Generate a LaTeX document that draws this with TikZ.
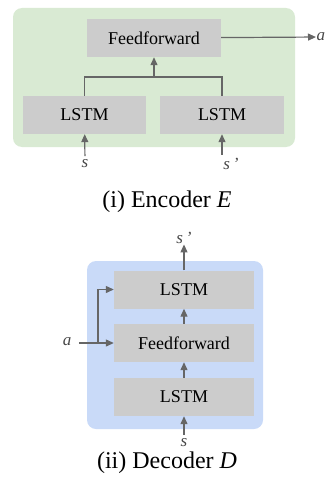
\documentclass[tikz,border=0pt]{standalone}
\usepackage{fontspec}
\setmainfont{Liberation Serif}
\usepackage{tikz}
\usetikzlibrary{arrows.meta}

\definecolor{encgreen}{HTML}{D9EAD3}
\definecolor{decblue}{HTML}{C9DAF8}
\definecolor{boxgray}{HTML}{CCCCCC}
\definecolor{linegray}{HTML}{666666}

\tikzset{
  layer/.style={fill=boxgray, inner sep=0pt, minimum height=38pt, font=\fontsize{18}{20}\selectfont},
  var/.style={inner sep=0.5pt, text=linegray!70!black, font=\fontsize{17}{19}\selectfont\itshape},
  caption/.style={inner sep=0pt, font=\fontsize{24}{26}\selectfont},
  flow/.style={draw=linegray, line width=1.2pt},
  arr/.style={flow, -{Triangle[length=8pt,width=7pt]}}
}

\begin{document}
\begin{tikzpicture}[x=1pt,y=-1pt]
\useasboundingbox (0,0) rectangle (326,495);

% encoder
\fill [encgreen, rounded corners=9pt] (13,8) rectangle (295,147);

\node (EncFF) at (154,38) [layer, minimum width=134pt]{Feedforward};
\node (EncLSTMa) at (84.5,115) [layer, minimum width=123pt]{LSTM};
\node (EncLSTMb) at (222,115) [layer, minimum width=124pt]{LSTM};
\coordinate (EncMerge) at (154,77);

\node (EncS) at (85,164) [var]{s};
\node (EncSp) at (231,164) [var]{s\,'};
\node (EncA) at (316,37) [var, anchor=west]{a};

\draw [arr, shorten <=3pt] (EncS) -- (EncLSTMa);
\draw [arr, shorten <=3pt] (EncSp.north -| EncLSTMb) -- (EncLSTMb);

\draw [flow] (EncLSTMa.north) |- (EncMerge);
\draw [flow] (EncLSTMb.north) |- (EncMerge);
\draw [arr] (EncMerge) -- (EncFF);

\draw [arr] (EncFF) -- (EncA);

\node (EncCap) at (167,202) [caption]{(i) Encoder \textit{E}};

% decoder
\fill [decblue, rounded corners=9pt] (87,261) rectangle (263,429);

\node (DecLSTMtop) at (184,289.5) [layer, minimum width=140pt]{LSTM};
\node (DecFF) at (184,343) [layer, minimum width=140pt]{Feedforward};
\node (DecLSTMbot) at (184,397) [layer, minimum width=140pt]{LSTM};
\coordinate (DecSplit) at (98,343);

\node (DecSp) at (184,238) [var]{s\,'};
\node (DecS) at (184,443) [var]{s};
\node (DecA) at (67,342) [var]{a};

\draw [arr, shorten <=3pt] (DecS) -- (DecLSTMbot);
\draw [arr] (DecLSTMbot) -- (DecFF);
\draw [arr] (DecFF) -- (DecLSTMtop);
\draw [arr] (DecLSTMtop) -- (DecSp.south -| DecLSTMtop);

\draw [arr, shorten <=7pt] (DecA.east |- DecFF) -- (DecFF);
\draw [arr] (DecSplit) |- (DecLSTMtop.west);

\node (DecCap) at (167,463) [caption]{(ii) Decoder \textit{D}};

\end{tikzpicture}
\end{document}
